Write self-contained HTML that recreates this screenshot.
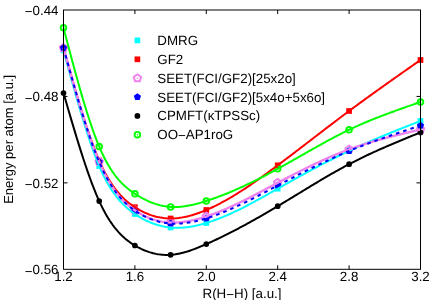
<!DOCTYPE html>
<html><head><meta charset="utf-8"><title>chart</title>
<style>
html,body{margin:0;padding:0;background:#fff;}
body{width:436px;height:300px;overflow:hidden;}
svg{display:block;}
text{font-family:"Liberation Sans",sans-serif;font-size:13.33px;fill:#000;text-rendering:geometricPrecision;}
</style></head><body>
<svg width="436" height="300" viewBox="0 0 436 300">
<rect width="436" height="300" fill="#fff"/>
<rect x="60.65" y="47.65" width="5.7" height="5.7" fill="#00ffff"/>
<rect x="96.35" y="163.15" width="5.7" height="5.7" fill="#00ffff"/>
<rect x="132.05" y="211.15" width="5.7" height="5.7" fill="#00ffff"/>
<rect x="167.75" y="224.65" width="5.7" height="5.7" fill="#00ffff"/>
<rect x="203.45" y="220.15" width="5.7" height="5.7" fill="#00ffff"/>
<rect x="274.85" y="185.85" width="5.7" height="5.7" fill="#00ffff"/>
<rect x="346.25" y="147.95" width="5.7" height="5.7" fill="#00ffff"/>
<rect x="417.65" y="118.15" width="5.7" height="5.7" fill="#00ffff"/>
<rect x="60.65" y="45.15" width="5.7" height="5.7" fill="#ff0000"/>
<rect x="96.35" y="157.65" width="5.7" height="5.7" fill="#ff0000"/>
<rect x="132.05" y="204.35" width="5.7" height="5.7" fill="#ff0000"/>
<rect x="167.75" y="215.65" width="5.7" height="5.7" fill="#ff0000"/>
<rect x="203.45" y="207.15" width="5.7" height="5.7" fill="#ff0000"/>
<rect x="274.85" y="162.45" width="5.7" height="5.7" fill="#ff0000"/>
<rect x="346.25" y="108.15" width="5.7" height="5.7" fill="#ff0000"/>
<rect x="417.65" y="57.15" width="5.7" height="5.7" fill="#ff0000"/>
<polygon points="63.50,44.10 67.21,46.79 65.79,51.16 61.21,51.16 59.79,46.79" fill="none" stroke="#ee82ee" stroke-width="2.0" stroke-linejoin="round"/><circle cx="63.50" cy="48.00" r="0.8" fill="#ee82ee"/>
<polygon points="99.20,157.90 102.91,160.59 101.49,164.96 96.91,164.96 95.49,160.59" fill="none" stroke="#ee82ee" stroke-width="2.0" stroke-linejoin="round"/><circle cx="99.20" cy="161.80" r="0.8" fill="#ee82ee"/>
<polygon points="134.90,206.50 138.61,209.19 137.19,213.56 132.61,213.56 131.19,209.19" fill="none" stroke="#ee82ee" stroke-width="2.0" stroke-linejoin="round"/><circle cx="134.90" cy="210.40" r="0.8" fill="#ee82ee"/>
<polygon points="170.60,218.60 174.31,221.29 172.89,225.66 168.31,225.66 166.89,221.29" fill="none" stroke="#ee82ee" stroke-width="2.0" stroke-linejoin="round"/><circle cx="170.60" cy="222.50" r="0.8" fill="#ee82ee"/>
<polygon points="206.30,212.60 210.01,215.29 208.59,219.66 204.01,219.66 202.59,215.29" fill="none" stroke="#ee82ee" stroke-width="2.0" stroke-linejoin="round"/><circle cx="206.30" cy="216.50" r="0.8" fill="#ee82ee"/>
<polygon points="277.70,178.90 281.41,181.59 279.99,185.96 275.41,185.96 273.99,181.59" fill="none" stroke="#ee82ee" stroke-width="2.0" stroke-linejoin="round"/><circle cx="277.70" cy="182.80" r="0.8" fill="#ee82ee"/>
<polygon points="349.10,145.50 352.81,148.19 351.39,152.56 346.81,152.56 345.39,148.19" fill="none" stroke="#ee82ee" stroke-width="2.0" stroke-linejoin="round"/><circle cx="349.10" cy="149.40" r="0.8" fill="#ee82ee"/>
<polygon points="420.50,125.60 424.21,128.29 422.79,132.66 418.21,132.66 416.79,128.29" fill="none" stroke="#ee82ee" stroke-width="2.0" stroke-linejoin="round"/><circle cx="420.50" cy="129.50" r="0.8" fill="#ee82ee"/>
<polygon points="63.50,44.00 67.11,46.63 65.73,50.87 61.27,50.87 59.89,46.63" fill="#0000ff"/>
<polygon points="99.20,158.20 102.81,160.83 101.43,165.07 96.97,165.07 95.59,160.83" fill="#0000ff"/>
<polygon points="134.90,206.80 138.51,209.43 137.13,213.67 132.67,213.67 131.29,209.43" fill="#0000ff"/>
<polygon points="170.60,219.70 174.21,222.33 172.83,226.57 168.37,226.57 166.99,222.33" fill="#0000ff"/>
<polygon points="206.30,214.60 209.91,217.23 208.53,221.47 204.07,221.47 202.69,217.23" fill="#0000ff"/>
<polygon points="277.70,181.70 281.31,184.33 279.93,188.57 275.47,188.57 274.09,184.33" fill="#0000ff"/>
<polygon points="349.10,147.20 352.71,149.83 351.33,154.07 346.87,154.07 345.49,149.83" fill="#0000ff"/>
<polygon points="420.50,121.80 424.11,124.43 422.73,128.67 418.27,128.67 416.89,124.43" fill="#0000ff"/>
<circle cx="63.50" cy="93.00" r="2.85" fill="#000000"/>
<circle cx="99.20" cy="201.10" r="2.85" fill="#000000"/>
<circle cx="134.90" cy="245.50" r="2.85" fill="#000000"/>
<circle cx="170.60" cy="254.80" r="2.85" fill="#000000"/>
<circle cx="206.30" cy="244.10" r="2.85" fill="#000000"/>
<circle cx="277.70" cy="206.20" r="2.85" fill="#000000"/>
<circle cx="349.10" cy="164.20" r="2.85" fill="#000000"/>
<circle cx="420.50" cy="132.40" r="2.85" fill="#000000"/>
<circle cx="63.50" cy="27.80" r="2.8" fill="none" stroke="#00ff00" stroke-width="1.9"/><circle cx="63.50" cy="27.80" r="0.8" fill="#00ff00"/>
<circle cx="99.20" cy="146.60" r="2.8" fill="none" stroke="#00ff00" stroke-width="1.9"/><circle cx="99.20" cy="146.60" r="0.8" fill="#00ff00"/>
<circle cx="134.90" cy="193.80" r="2.8" fill="none" stroke="#00ff00" stroke-width="1.9"/><circle cx="134.90" cy="193.80" r="0.8" fill="#00ff00"/>
<circle cx="170.60" cy="206.90" r="2.8" fill="none" stroke="#00ff00" stroke-width="1.9"/><circle cx="170.60" cy="206.90" r="0.8" fill="#00ff00"/>
<circle cx="206.30" cy="201.00" r="2.8" fill="none" stroke="#00ff00" stroke-width="1.9"/><circle cx="206.30" cy="201.00" r="0.8" fill="#00ff00"/>
<circle cx="277.70" cy="168.80" r="2.8" fill="none" stroke="#00ff00" stroke-width="1.9"/><circle cx="277.70" cy="168.80" r="0.8" fill="#00ff00"/>
<circle cx="349.10" cy="129.80" r="2.8" fill="none" stroke="#00ff00" stroke-width="1.9"/><circle cx="349.10" cy="129.80" r="0.8" fill="#00ff00"/>
<circle cx="420.50" cy="102.00" r="2.8" fill="none" stroke="#00ff00" stroke-width="1.9"/><circle cx="420.50" cy="102.00" r="0.8" fill="#00ff00"/>
<path d="M63.50,50.50 L64.99,56.00 L66.49,61.49 L67.98,66.96 L69.47,72.42 L70.97,77.85 L72.46,83.24 L73.96,88.59 L75.45,93.89 L76.94,99.13 L78.44,104.32 L79.93,109.43 L81.42,114.47 L82.92,119.42 L84.41,124.28 L85.91,129.04 L87.40,133.70 L88.89,138.25 L90.39,142.67 L91.88,146.97 L93.37,151.14 L94.87,155.17 L96.36,159.05 L97.86,162.78 L99.35,166.35 L100.84,169.75 L102.34,172.99 L103.83,176.08 L105.32,179.01 L106.82,181.80 L108.31,184.45 L109.81,186.96 L111.30,189.35 L112.79,191.61 L114.29,193.75 L115.78,195.78 L117.27,197.70 L118.77,199.51 L120.26,201.23 L121.76,202.86 L123.25,204.40 L124.74,205.85 L126.24,207.23 L127.73,208.54 L129.22,209.79 L130.72,210.97 L132.21,212.09 L133.71,213.17 L135.20,214.20 L136.69,215.19 L138.19,216.14 L139.68,217.06 L141.17,217.93 L142.67,218.76 L144.16,219.55 L145.65,220.31 L147.15,221.02 L148.64,221.70 L150.14,222.34 L151.63,222.95 L153.12,223.51 L154.62,224.04 L156.11,224.54 L157.60,224.99 L159.10,225.41 L160.59,225.80 L162.09,226.15 L163.58,226.47 L165.07,226.75 L166.57,227.00 L168.06,227.21 L169.55,227.39 L171.05,227.54 L172.54,227.66 L174.04,227.74 L175.53,227.79 L177.02,227.81 L178.52,227.80 L180.01,227.76 L181.50,227.70 L183.00,227.60 L184.49,227.48 L185.99,227.33 L187.48,227.15 L188.97,226.95 L190.47,226.73 L191.96,226.48 L193.45,226.21 L194.95,225.91 L196.44,225.59 L197.94,225.26 L199.43,224.90 L200.92,224.52 L202.42,224.12 L203.91,223.70 L205.40,223.27 L206.90,222.82 L208.39,222.35 L209.88,221.86 L211.38,221.36 L212.87,220.85 L214.37,220.31 L215.86,219.77 L217.35,219.21 L218.85,218.63 L220.34,218.04 L221.83,217.44 L223.33,216.82 L224.82,216.20 L226.32,215.56 L227.81,214.90 L229.30,214.24 L230.80,213.56 L232.29,212.88 L233.78,212.18 L235.28,211.47 L236.77,210.76 L238.27,210.03 L239.76,209.30 L241.25,208.55 L242.75,207.80 L244.24,207.04 L245.73,206.27 L247.23,205.50 L248.72,204.71 L250.22,203.93 L251.71,203.13 L253.20,202.33 L254.70,201.53 L256.19,200.71 L257.68,199.90 L259.18,199.08 L260.67,198.26 L262.17,197.43 L263.66,196.60 L265.15,195.76 L266.65,194.93 L268.14,194.09 L269.63,193.25 L271.13,192.41 L272.62,191.57 L274.12,190.72 L275.61,189.88 L277.10,189.04 L278.60,188.19 L280.09,187.35 L281.58,186.51 L283.08,185.67 L284.57,184.83 L286.06,183.99 L287.56,183.15 L289.05,182.32 L290.55,181.48 L292.04,180.65 L293.53,179.81 L295.03,178.98 L296.52,178.15 L298.01,177.33 L299.51,176.50 L301.00,175.68 L302.50,174.86 L303.99,174.04 L305.48,173.22 L306.98,172.41 L308.47,171.59 L309.96,170.78 L311.46,169.98 L312.95,169.17 L314.45,168.37 L315.94,167.57 L317.43,166.78 L318.93,165.98 L320.42,165.19 L321.91,164.41 L323.41,163.63 L324.90,162.85 L326.40,162.07 L327.89,161.30 L329.38,160.53 L330.88,159.77 L332.37,159.01 L333.86,158.25 L335.36,157.50 L336.85,156.75 L338.35,156.01 L339.84,155.27 L341.33,154.54 L342.83,153.81 L344.32,153.09 L345.81,152.37 L347.31,151.65 L348.80,150.94 L350.29,150.24 L351.79,149.54 L353.28,148.84 L354.78,148.15 L356.27,147.47 L357.76,146.79 L359.26,146.11 L360.75,145.44 L362.24,144.78 L363.74,144.11 L365.23,143.45 L366.73,142.80 L368.22,142.15 L369.71,141.50 L371.21,140.86 L372.70,140.22 L374.19,139.59 L375.69,138.95 L377.18,138.32 L378.68,137.70 L380.17,137.07 L381.66,136.45 L383.16,135.84 L384.65,135.22 L386.14,134.61 L387.64,134.00 L389.13,133.39 L390.63,132.79 L392.12,132.19 L393.61,131.58 L395.11,130.99 L396.60,130.39 L398.09,129.79 L399.59,129.20 L401.08,128.61 L402.58,128.02 L404.07,127.43 L405.56,126.84 L407.06,126.25 L408.55,125.67 L410.04,125.08 L411.54,124.50 L413.03,123.91 L414.53,123.33 L416.02,122.75 L417.51,122.16 L419.01,121.58 L420.50,121.00" fill="none" stroke="#00ffff" stroke-width="2.0" stroke-linejoin="round"/>
<path d="M63.50,48.00 L64.99,53.35 L66.49,58.70 L67.98,64.03 L69.47,69.34 L70.97,74.62 L72.46,79.87 L73.96,85.08 L75.45,90.24 L76.94,95.35 L78.44,100.39 L79.93,105.37 L81.42,110.28 L82.92,115.10 L84.41,119.83 L85.91,124.47 L87.40,129.01 L88.89,133.44 L90.39,137.75 L91.88,141.95 L93.37,146.01 L94.87,149.94 L96.36,153.72 L97.86,157.36 L99.35,160.84 L100.84,164.16 L102.34,167.33 L103.83,170.34 L105.32,173.20 L106.82,175.93 L108.31,178.52 L109.81,180.97 L111.30,183.30 L112.79,185.51 L114.29,187.60 L115.78,189.58 L117.27,191.45 L118.77,193.22 L120.26,194.89 L121.76,196.48 L123.25,197.97 L124.74,199.38 L126.24,200.72 L127.73,201.98 L129.22,203.18 L130.72,204.31 L132.21,205.39 L133.71,206.41 L135.20,207.39 L136.69,208.33 L138.19,209.22 L139.68,210.07 L141.17,210.87 L142.67,211.64 L144.16,212.36 L145.65,213.04 L147.15,213.68 L148.64,214.28 L150.14,214.83 L151.63,215.35 L153.12,215.83 L154.62,216.26 L156.11,216.66 L157.60,217.02 L159.10,217.33 L160.59,217.61 L162.09,217.85 L163.58,218.06 L165.07,218.22 L166.57,218.35 L168.06,218.44 L169.55,218.49 L171.05,218.50 L172.54,218.48 L174.04,218.42 L175.53,218.33 L177.02,218.20 L178.52,218.04 L180.01,217.84 L181.50,217.62 L183.00,217.36 L184.49,217.08 L185.99,216.76 L187.48,216.42 L188.97,216.05 L190.47,215.65 L191.96,215.23 L193.45,214.78 L194.95,214.30 L196.44,213.81 L197.94,213.29 L199.43,212.75 L200.92,212.18 L202.42,211.60 L203.91,211.00 L205.40,210.38 L206.90,209.74 L208.39,209.09 L209.88,208.42 L211.38,207.73 L212.87,207.02 L214.37,206.30 L215.86,205.57 L217.35,204.82 L218.85,204.05 L220.34,203.27 L221.83,202.48 L223.33,201.67 L224.82,200.84 L226.32,200.01 L227.81,199.16 L229.30,198.30 L230.80,197.42 L232.29,196.53 L233.78,195.64 L235.28,194.73 L236.77,193.80 L238.27,192.87 L239.76,191.93 L241.25,190.97 L242.75,190.01 L244.24,189.04 L245.73,188.05 L247.23,187.06 L248.72,186.06 L250.22,185.05 L251.71,184.03 L253.20,183.00 L254.70,181.97 L256.19,180.93 L257.68,179.88 L259.18,178.83 L260.67,177.76 L262.17,176.70 L263.66,175.62 L265.15,174.54 L266.65,173.46 L268.14,172.37 L269.63,171.28 L271.13,170.18 L272.62,169.07 L274.12,167.97 L275.61,166.86 L277.10,165.75 L278.60,164.63 L280.09,163.51 L281.58,162.39 L283.08,161.27 L284.57,160.14 L286.06,159.01 L287.56,157.88 L289.05,156.75 L290.55,155.62 L292.04,154.48 L293.53,153.35 L295.03,152.21 L296.52,151.07 L298.01,149.93 L299.51,148.79 L301.00,147.64 L302.50,146.50 L303.99,145.35 L305.48,144.21 L306.98,143.06 L308.47,141.92 L309.96,140.77 L311.46,139.62 L312.95,138.48 L314.45,137.33 L315.94,136.18 L317.43,135.03 L318.93,133.89 L320.42,132.74 L321.91,131.60 L323.41,130.45 L324.90,129.31 L326.40,128.17 L327.89,127.03 L329.38,125.89 L330.88,124.75 L332.37,123.61 L333.86,122.47 L335.36,121.34 L336.85,120.21 L338.35,119.07 L339.84,117.95 L341.33,116.82 L342.83,115.70 L344.32,114.57 L345.81,113.45 L347.31,112.34 L348.80,111.22 L350.29,110.11 L351.79,109.00 L353.28,107.90 L354.78,106.79 L356.27,105.69 L357.76,104.59 L359.26,103.50 L360.75,102.41 L362.24,101.32 L363.74,100.23 L365.23,99.14 L366.73,98.06 L368.22,96.98 L369.71,95.90 L371.21,94.82 L372.70,93.74 L374.19,92.67 L375.69,91.60 L377.18,90.53 L378.68,89.46 L380.17,88.39 L381.66,87.33 L383.16,86.26 L384.65,85.20 L386.14,84.14 L387.64,83.08 L389.13,82.02 L390.63,80.96 L392.12,79.91 L393.61,78.85 L395.11,77.80 L396.60,76.75 L398.09,75.70 L399.59,74.65 L401.08,73.60 L402.58,72.55 L404.07,71.50 L405.56,70.45 L407.06,69.41 L408.55,68.36 L410.04,67.31 L411.54,66.27 L413.03,65.22 L414.53,64.18 L416.02,63.13 L417.51,62.09 L419.01,61.04 L420.50,60.00" fill="none" stroke="#ff0000" stroke-width="2.0" stroke-linejoin="round"/>
<path d="M63.50,48.00 L64.99,53.39 L66.49,58.78 L67.98,64.16 L69.47,69.51 L70.97,74.84 L72.46,80.13 L73.96,85.39 L75.45,90.60 L76.94,95.75 L78.44,100.85 L79.93,105.87 L81.42,110.83 L82.92,115.70 L84.41,120.49 L85.91,125.19 L87.40,129.78 L88.89,134.27 L90.39,138.65 L91.88,142.90 L93.37,147.03 L94.87,151.03 L96.36,154.88 L97.86,158.59 L99.35,162.15 L100.84,165.55 L102.34,168.79 L103.83,171.89 L105.32,174.84 L106.82,177.65 L108.31,180.32 L109.81,182.87 L111.30,185.28 L112.79,187.58 L114.29,189.76 L115.78,191.83 L117.27,193.79 L118.77,195.64 L120.26,197.40 L121.76,199.07 L123.25,200.64 L124.74,202.13 L126.24,203.54 L127.73,204.88 L129.22,206.15 L130.72,207.35 L132.21,208.49 L133.71,209.57 L135.20,210.60 L136.69,211.59 L138.19,212.52 L139.68,213.41 L141.17,214.25 L142.67,215.05 L144.16,215.81 L145.65,216.51 L147.15,217.18 L148.64,217.80 L150.14,218.39 L151.63,218.93 L153.12,219.43 L154.62,219.89 L156.11,220.31 L157.60,220.69 L159.10,221.04 L160.59,221.35 L162.09,221.62 L163.58,221.85 L165.07,222.05 L166.57,222.22 L168.06,222.35 L169.55,222.45 L171.05,222.52 L172.54,222.55 L174.04,222.56 L175.53,222.53 L177.02,222.47 L178.52,222.39 L180.01,222.28 L181.50,222.14 L183.00,221.97 L184.49,221.78 L185.99,221.56 L187.48,221.32 L188.97,221.05 L190.47,220.77 L191.96,220.45 L193.45,220.12 L194.95,219.77 L196.44,219.40 L197.94,219.01 L199.43,218.60 L200.92,218.17 L202.42,217.73 L203.91,217.27 L205.40,216.79 L206.90,216.30 L208.39,215.80 L209.88,215.28 L211.38,214.75 L212.87,214.20 L214.37,213.65 L215.86,213.08 L217.35,212.50 L218.85,211.90 L220.34,211.30 L221.83,210.68 L223.33,210.05 L224.82,209.42 L226.32,208.77 L227.81,208.11 L229.30,207.45 L230.80,206.77 L232.29,206.09 L233.78,205.39 L235.28,204.69 L236.77,203.98 L238.27,203.27 L239.76,202.54 L241.25,201.81 L242.75,201.08 L244.24,200.33 L245.73,199.59 L247.23,198.83 L248.72,198.07 L250.22,197.31 L251.71,196.54 L253.20,195.77 L254.70,194.99 L256.19,194.21 L257.68,193.43 L259.18,192.64 L260.67,191.86 L262.17,191.06 L263.66,190.27 L265.15,189.48 L266.65,188.68 L268.14,187.89 L269.63,187.09 L271.13,186.30 L272.62,185.50 L274.12,184.71 L275.61,183.91 L277.10,183.12 L278.60,182.32 L280.09,181.53 L281.58,180.75 L283.08,179.96 L284.57,179.18 L286.06,178.39 L287.56,177.61 L289.05,176.84 L290.55,176.06 L292.04,175.29 L293.53,174.52 L295.03,173.76 L296.52,173.00 L298.01,172.24 L299.51,171.48 L301.00,170.73 L302.50,169.98 L303.99,169.24 L305.48,168.50 L306.98,167.77 L308.47,167.04 L309.96,166.31 L311.46,165.59 L312.95,164.87 L314.45,164.16 L315.94,163.46 L317.43,162.75 L318.93,162.06 L320.42,161.37 L321.91,160.69 L323.41,160.01 L324.90,159.33 L326.40,158.67 L327.89,158.01 L329.38,157.36 L330.88,156.71 L332.37,156.07 L333.86,155.43 L335.36,154.81 L336.85,154.19 L338.35,153.58 L339.84,152.97 L341.33,152.38 L342.83,151.79 L344.32,151.21 L345.81,150.63 L347.31,150.07 L348.80,149.51 L350.29,148.96 L351.79,148.42 L353.28,147.89 L354.78,147.37 L356.27,146.85 L357.76,146.34 L359.26,145.84 L360.75,145.35 L362.24,144.86 L363.74,144.38 L365.23,143.90 L366.73,143.44 L368.22,142.98 L369.71,142.52 L371.21,142.08 L372.70,141.63 L374.19,141.20 L375.69,140.76 L377.18,140.34 L378.68,139.92 L380.17,139.50 L381.66,139.09 L383.16,138.68 L384.65,138.28 L386.14,137.88 L387.64,137.49 L389.13,137.10 L390.63,136.72 L392.12,136.33 L393.61,135.95 L395.11,135.58 L396.60,135.20 L398.09,134.83 L399.59,134.47 L401.08,134.10 L402.58,133.74 L404.07,133.38 L405.56,133.02 L407.06,132.66 L408.55,132.31 L410.04,131.95 L411.54,131.60 L413.03,131.25 L414.53,130.90 L416.02,130.55 L417.51,130.20 L419.01,129.85 L420.50,129.50" fill="none" stroke="#ee82ee" stroke-width="2.4" stroke-linejoin="round"/>
<path d="M63.50,47.80 L64.99,53.22 L66.49,58.63 L67.98,64.03 L69.47,69.40 L70.97,74.76 L72.46,80.07 L73.96,85.35 L75.45,90.58 L76.94,95.75 L78.44,100.87 L79.93,105.92 L81.42,110.89 L82.92,115.78 L84.41,120.59 L85.91,125.30 L87.40,129.91 L88.89,134.41 L90.39,138.80 L91.88,143.07 L93.37,147.21 L94.87,151.21 L96.36,155.07 L97.86,158.79 L99.35,162.35 L100.84,165.75 L102.34,169.00 L103.83,172.09 L105.32,175.04 L106.82,177.85 L108.31,180.52 L109.81,183.06 L111.30,185.47 L112.79,187.76 L114.29,189.94 L115.78,192.00 L117.27,193.95 L118.77,195.81 L120.26,197.56 L121.76,199.22 L123.25,200.80 L124.74,202.29 L126.24,203.70 L127.73,205.04 L129.22,206.31 L130.72,207.52 L132.21,208.67 L133.71,209.76 L135.20,210.81 L136.69,211.80 L138.19,212.76 L139.68,213.67 L141.17,214.53 L142.67,215.36 L144.16,216.14 L145.65,216.87 L147.15,217.57 L148.64,218.23 L150.14,218.84 L151.63,219.42 L153.12,219.95 L154.62,220.45 L156.11,220.91 L157.60,221.33 L159.10,221.72 L160.59,222.06 L162.09,222.38 L163.58,222.65 L165.07,222.90 L166.57,223.10 L168.06,223.28 L169.55,223.42 L171.05,223.53 L172.54,223.61 L174.04,223.65 L175.53,223.67 L177.02,223.65 L178.52,223.61 L180.01,223.54 L181.50,223.44 L183.00,223.31 L184.49,223.16 L185.99,222.98 L187.48,222.78 L188.97,222.55 L190.47,222.30 L191.96,222.03 L193.45,221.73 L194.95,221.42 L196.44,221.08 L197.94,220.72 L199.43,220.35 L200.92,219.96 L202.42,219.54 L203.91,219.12 L205.40,218.67 L206.90,218.21 L208.39,217.74 L209.88,217.25 L211.38,216.75 L212.87,216.23 L214.37,215.70 L215.86,215.16 L217.35,214.61 L218.85,214.04 L220.34,213.46 L221.83,212.87 L223.33,212.26 L224.82,211.65 L226.32,211.03 L227.81,210.39 L229.30,209.74 L230.80,209.09 L232.29,208.42 L233.78,207.75 L235.28,207.07 L236.77,206.38 L238.27,205.68 L239.76,204.97 L241.25,204.26 L242.75,203.54 L244.24,202.81 L245.73,202.08 L247.23,201.34 L248.72,200.59 L250.22,199.84 L251.71,199.09 L253.20,198.33 L254.70,197.56 L256.19,196.80 L257.68,196.02 L259.18,195.25 L260.67,194.47 L262.17,193.69 L263.66,192.91 L265.15,192.12 L266.65,191.34 L268.14,190.55 L269.63,189.76 L271.13,188.97 L272.62,188.18 L274.12,187.39 L275.61,186.60 L277.10,185.81 L278.60,185.03 L280.09,184.24 L281.58,183.46 L283.08,182.68 L284.57,181.89 L286.06,181.12 L287.56,180.34 L289.05,179.56 L290.55,178.79 L292.04,178.02 L293.53,177.25 L295.03,176.48 L296.52,175.71 L298.01,174.95 L299.51,174.19 L301.00,173.43 L302.50,172.68 L303.99,171.93 L305.48,171.18 L306.98,170.43 L308.47,169.69 L309.96,168.95 L311.46,168.21 L312.95,167.48 L314.45,166.75 L315.94,166.02 L317.43,165.30 L318.93,164.58 L320.42,163.87 L321.91,163.16 L323.41,162.45 L324.90,161.75 L326.40,161.05 L327.89,160.35 L329.38,159.66 L330.88,158.98 L332.37,158.29 L333.86,157.62 L335.36,156.95 L336.85,156.28 L338.35,155.62 L339.84,154.96 L341.33,154.31 L342.83,153.66 L344.32,153.02 L345.81,152.38 L347.31,151.75 L348.80,151.12 L350.29,150.50 L351.79,149.89 L353.28,149.28 L354.78,148.68 L356.27,148.08 L357.76,147.49 L359.26,146.90 L360.75,146.31 L362.24,145.74 L363.74,145.16 L365.23,144.59 L366.73,144.03 L368.22,143.47 L369.71,142.91 L371.21,142.36 L372.70,141.81 L374.19,141.26 L375.69,140.72 L377.18,140.18 L378.68,139.65 L380.17,139.12 L381.66,138.59 L383.16,138.07 L384.65,137.54 L386.14,137.03 L387.64,136.51 L389.13,136.00 L390.63,135.48 L392.12,134.98 L393.61,134.47 L395.11,133.96 L396.60,133.46 L398.09,132.96 L399.59,132.46 L401.08,131.97 L402.58,131.47 L404.07,130.98 L405.56,130.48 L407.06,129.99 L408.55,129.50 L410.04,129.01 L411.54,128.52 L413.03,128.03 L414.53,127.55 L416.02,127.06 L417.51,126.57 L419.01,126.09 L420.50,125.60" fill="none" stroke="#0000ff" stroke-width="2.0" stroke-dasharray="3.6,4.0" stroke-linejoin="round"/>
<path d="M63.50,93.00 L64.99,98.15 L66.49,103.28 L67.98,108.41 L69.47,113.52 L70.97,118.60 L72.46,123.64 L73.96,128.65 L75.45,133.61 L76.94,138.52 L78.44,143.37 L79.93,148.16 L81.42,152.87 L82.92,157.51 L84.41,162.06 L85.91,166.51 L87.40,170.87 L88.89,175.13 L90.39,179.27 L91.88,183.30 L93.37,187.20 L94.87,190.97 L96.36,194.60 L97.86,198.09 L99.35,201.43 L100.84,204.61 L102.34,207.64 L103.83,210.53 L105.32,213.27 L106.82,215.88 L108.31,218.35 L109.81,220.70 L111.30,222.92 L112.79,225.03 L114.29,227.02 L115.78,228.90 L117.27,230.68 L118.77,232.37 L120.26,233.95 L121.76,235.45 L123.25,236.86 L124.74,238.19 L126.24,239.45 L127.73,240.64 L129.22,241.76 L130.72,242.82 L132.21,243.82 L133.71,244.77 L135.20,245.68 L136.69,246.54 L138.19,247.36 L139.68,248.13 L141.17,248.87 L142.67,249.56 L144.16,250.21 L145.65,250.81 L147.15,251.37 L148.64,251.90 L150.14,252.38 L151.63,252.81 L153.12,253.21 L154.62,253.57 L156.11,253.88 L157.60,254.15 L159.10,254.38 L160.59,254.57 L162.09,254.72 L163.58,254.83 L165.07,254.90 L166.57,254.93 L168.06,254.91 L169.55,254.86 L171.05,254.77 L172.54,254.63 L174.04,254.46 L175.53,254.26 L177.02,254.01 L178.52,253.73 L180.01,253.42 L181.50,253.08 L183.00,252.71 L184.49,252.31 L185.99,251.88 L187.48,251.43 L188.97,250.95 L190.47,250.45 L191.96,249.93 L193.45,249.39 L194.95,248.83 L196.44,248.25 L197.94,247.66 L199.43,247.05 L200.92,246.43 L202.42,245.79 L203.91,245.15 L205.40,244.50 L206.90,243.83 L208.39,243.17 L209.88,242.49 L211.38,241.81 L212.87,241.12 L214.37,240.43 L215.86,239.73 L217.35,239.02 L218.85,238.31 L220.34,237.59 L221.83,236.87 L223.33,236.14 L224.82,235.40 L226.32,234.66 L227.81,233.91 L229.30,233.15 L230.80,232.39 L232.29,231.63 L233.78,230.86 L235.28,230.08 L236.77,229.30 L238.27,228.52 L239.76,227.73 L241.25,226.93 L242.75,226.13 L244.24,225.32 L245.73,224.51 L247.23,223.70 L248.72,222.88 L250.22,222.05 L251.71,221.23 L253.20,220.39 L254.70,219.56 L256.19,218.72 L257.68,217.87 L259.18,217.02 L260.67,216.17 L262.17,215.31 L263.66,214.45 L265.15,213.59 L266.65,212.72 L268.14,211.85 L269.63,210.98 L271.13,210.10 L272.62,209.22 L274.12,208.33 L275.61,207.45 L277.10,206.56 L278.60,205.66 L280.09,204.77 L281.58,203.87 L283.08,202.97 L284.57,202.07 L286.06,201.16 L287.56,200.26 L289.05,199.35 L290.55,198.44 L292.04,197.53 L293.53,196.62 L295.03,195.71 L296.52,194.80 L298.01,193.89 L299.51,192.98 L301.00,192.07 L302.50,191.16 L303.99,190.25 L305.48,189.34 L306.98,188.43 L308.47,187.53 L309.96,186.62 L311.46,185.72 L312.95,184.82 L314.45,183.92 L315.94,183.02 L317.43,182.13 L318.93,181.24 L320.42,180.35 L321.91,179.47 L323.41,178.59 L324.90,177.71 L326.40,176.84 L327.89,175.97 L329.38,175.10 L330.88,174.24 L332.37,173.39 L333.86,172.54 L335.36,171.69 L336.85,170.85 L338.35,170.02 L339.84,169.19 L341.33,168.37 L342.83,167.55 L344.32,166.74 L345.81,165.94 L347.31,165.15 L348.80,164.36 L350.29,163.58 L351.79,162.80 L353.28,162.04 L354.78,161.28 L356.27,160.52 L357.76,159.78 L359.26,159.04 L360.75,158.30 L362.24,157.58 L363.74,156.86 L365.23,156.14 L366.73,155.43 L368.22,154.73 L369.71,154.03 L371.21,153.33 L372.70,152.65 L374.19,151.96 L375.69,151.29 L377.18,150.61 L378.68,149.94 L380.17,149.28 L381.66,148.62 L383.16,147.96 L384.65,147.31 L386.14,146.66 L387.64,146.01 L389.13,145.37 L390.63,144.73 L392.12,144.10 L393.61,143.46 L395.11,142.83 L396.60,142.21 L398.09,141.58 L399.59,140.96 L401.08,140.34 L402.58,139.72 L404.07,139.10 L405.56,138.49 L407.06,137.88 L408.55,137.26 L410.04,136.65 L411.54,136.04 L413.03,135.43 L414.53,134.83 L416.02,134.22 L417.51,133.61 L419.01,133.01 L420.50,132.40" fill="none" stroke="#000000" stroke-width="2.0" stroke-linejoin="round"/>
<path d="M63.50,27.80 L64.99,33.48 L66.49,39.16 L67.98,44.82 L69.47,50.46 L70.97,56.07 L72.46,61.64 L73.96,67.16 L75.45,72.64 L76.94,78.05 L78.44,83.40 L79.93,88.67 L81.42,93.86 L82.92,98.96 L84.41,103.96 L85.91,108.85 L87.40,113.64 L88.89,118.30 L90.39,122.84 L91.88,127.24 L93.37,131.49 L94.87,135.60 L96.36,139.55 L97.86,143.34 L99.35,146.95 L100.84,150.39 L102.34,153.65 L103.83,156.75 L105.32,159.69 L106.82,162.47 L108.31,165.10 L109.81,167.59 L111.30,169.95 L112.79,172.17 L114.29,174.27 L115.78,176.26 L117.27,178.13 L118.77,179.89 L120.26,181.55 L121.76,183.12 L123.25,184.60 L124.74,186.00 L126.24,187.32 L127.73,188.57 L129.22,189.76 L130.72,190.89 L132.21,191.97 L133.71,193.00 L135.20,194.00 L136.69,194.95 L138.19,195.87 L139.68,196.76 L141.17,197.61 L142.67,198.43 L144.16,199.20 L145.65,199.95 L147.15,200.65 L148.64,201.32 L150.14,201.96 L151.63,202.56 L153.12,203.12 L154.62,203.64 L156.11,204.13 L157.60,204.58 L159.10,204.99 L160.59,205.37 L162.09,205.70 L163.58,206.00 L165.07,206.26 L166.57,206.49 L168.06,206.67 L169.55,206.82 L171.05,206.93 L172.54,207.00 L174.04,207.03 L175.53,207.03 L177.02,206.99 L178.52,206.92 L180.01,206.82 L181.50,206.68 L183.00,206.52 L184.49,206.33 L185.99,206.11 L187.48,205.86 L188.97,205.59 L190.47,205.29 L191.96,204.98 L193.45,204.64 L194.95,204.28 L196.44,203.90 L197.94,203.50 L199.43,203.09 L200.92,202.66 L202.42,202.21 L203.91,201.76 L205.40,201.29 L206.90,200.81 L208.39,200.32 L209.88,199.82 L211.38,199.31 L212.87,198.79 L214.37,198.26 L215.86,197.72 L217.35,197.17 L218.85,196.62 L220.34,196.05 L221.83,195.48 L223.33,194.89 L224.82,194.30 L226.32,193.70 L227.81,193.09 L229.30,192.48 L230.80,191.85 L232.29,191.22 L233.78,190.58 L235.28,189.93 L236.77,189.27 L238.27,188.61 L239.76,187.94 L241.25,187.26 L242.75,186.57 L244.24,185.88 L245.73,185.18 L247.23,184.47 L248.72,183.76 L250.22,183.04 L251.71,182.32 L253.20,181.58 L254.70,180.85 L256.19,180.10 L257.68,179.35 L259.18,178.60 L260.67,177.83 L262.17,177.07 L263.66,176.30 L265.15,175.52 L266.65,174.74 L268.14,173.95 L269.63,173.16 L271.13,172.36 L272.62,171.56 L274.12,170.75 L275.61,169.94 L277.10,169.13 L278.60,168.31 L280.09,167.49 L281.58,166.66 L283.08,165.83 L284.57,165.00 L286.06,164.16 L287.56,163.32 L289.05,162.48 L290.55,161.64 L292.04,160.80 L293.53,159.95 L295.03,159.10 L296.52,158.26 L298.01,157.41 L299.51,156.56 L301.00,155.71 L302.50,154.86 L303.99,154.01 L305.48,153.16 L306.98,152.31 L308.47,151.47 L309.96,150.62 L311.46,149.78 L312.95,148.93 L314.45,148.09 L315.94,147.26 L317.43,146.42 L318.93,145.59 L320.42,144.76 L321.91,143.93 L323.41,143.11 L324.90,142.29 L326.40,141.48 L327.89,140.67 L329.38,139.86 L330.88,139.06 L332.37,138.27 L333.86,137.48 L335.36,136.70 L336.85,135.92 L338.35,135.15 L339.84,134.38 L341.33,133.62 L342.83,132.87 L344.32,132.13 L345.81,131.39 L347.31,130.66 L348.80,129.94 L350.29,129.23 L351.79,128.53 L353.28,127.83 L354.78,127.14 L356.27,126.46 L357.76,125.79 L359.26,125.12 L360.75,124.46 L362.24,123.81 L363.74,123.17 L365.23,122.53 L366.73,121.90 L368.22,121.27 L369.71,120.66 L371.21,120.04 L372.70,119.43 L374.19,118.83 L375.69,118.24 L377.18,117.65 L378.68,117.06 L380.17,116.48 L381.66,115.90 L383.16,115.33 L384.65,114.76 L386.14,114.20 L387.64,113.64 L389.13,113.08 L390.63,112.53 L392.12,111.98 L393.61,111.44 L395.11,110.90 L396.60,110.36 L398.09,109.82 L399.59,109.29 L401.08,108.76 L402.58,108.23 L404.07,107.70 L405.56,107.18 L407.06,106.66 L408.55,106.13 L410.04,105.61 L411.54,105.10 L413.03,104.58 L414.53,104.06 L416.02,103.55 L417.51,103.03 L419.01,102.52 L420.50,102.00" fill="none" stroke="#00ff00" stroke-width="2.0" stroke-linejoin="round"/>
<g stroke="#000" stroke-width="1" fill="none">
<rect x="63.5" y="10.0" width="357.0" height="259.3"/>
<path d="M134.90,269.3 v-4 M134.90,10.0 v4"/>
<path d="M206.30,269.3 v-4 M206.30,10.0 v4"/>
<path d="M277.70,269.3 v-4 M277.70,10.0 v4"/>
<path d="M349.10,269.3 v-4 M349.10,10.0 v4"/>
<path d="M63.5,96.43 h4 M420.5,96.43 h-4"/>
<path d="M63.5,182.87 h4 M420.5,182.87 h-4"/>
</g>
<g style="filter:grayscale(1)">
<text x="63.50" y="281.3" text-anchor="middle">1.2</text>
<text x="134.90" y="281.3" text-anchor="middle">1.6</text>
<text x="206.30" y="281.3" text-anchor="middle">2.0</text>
<text x="277.70" y="281.3" text-anchor="middle">2.4</text>
<text x="349.10" y="281.3" text-anchor="middle">2.8</text>
<text x="420.50" y="281.3" text-anchor="middle">3.2</text>
<text x="58.5" y="15.00" text-anchor="end"><tspan dy="1.2">−</tspan><tspan dy="-1.2">0.44</tspan></text>
<text x="58.5" y="101.43" text-anchor="end"><tspan dy="1.2">−</tspan><tspan dy="-1.2">0.48</tspan></text>
<text x="58.5" y="187.87" text-anchor="end"><tspan dy="1.2">−</tspan><tspan dy="-1.2">0.52</tspan></text>
<text x="58.5" y="274.30" text-anchor="end"><tspan dy="1.2">−</tspan><tspan dy="-1.2">0.56</tspan></text>
<text x="242" y="298" text-anchor="middle">R(H<tspan dy="1.2">−</tspan><tspan dy="-1.2">H) [a.u.]</tspan></text>
<text transform="translate(12.8,139.3) rotate(-90)" text-anchor="middle" style="font-size:13.05px">Energy per atom [a.u.]</text>
<text x="157.3" y="44.90">DMRG</text>
<text x="157.3" y="63.80">GF2</text>
<text x="157.3" y="82.70">SEET(FCI/GF2)[25x2o]</text>
<text x="157.3" y="101.50">SEET(FCI/GF2)[5x4o+5x6o]</text>
<text x="157.3" y="120.40">CPMFT(κTPSSc)</text>
<text x="157.3" y="139.20">OO<tspan dy="1.2">−</tspan><tspan dy="-1.2">AP1roG</tspan></text>
</g>
<rect x="134.55" y="37.55" width="5.7" height="5.7" fill="#00ffff"/>
<rect x="134.55" y="56.45" width="5.7" height="5.7" fill="#ff0000"/>
<polygon points="137.40,74.30 141.11,76.99 139.69,81.36 135.11,81.36 133.69,76.99" fill="none" stroke="#ee82ee" stroke-width="2.0" stroke-linejoin="round"/><circle cx="137.40" cy="78.20" r="0.8" fill="#ee82ee"/>
<polygon points="137.40,93.20 141.01,95.83 139.63,100.07 135.17,100.07 133.79,95.83" fill="#0000ff"/>
<circle cx="137.40" cy="115.90" r="2.85" fill="#000000"/>
<circle cx="137.40" cy="134.70" r="2.8" fill="none" stroke="#00ff00" stroke-width="1.9"/><circle cx="137.40" cy="134.70" r="0.8" fill="#00ff00"/>
</svg>
</body></html>
